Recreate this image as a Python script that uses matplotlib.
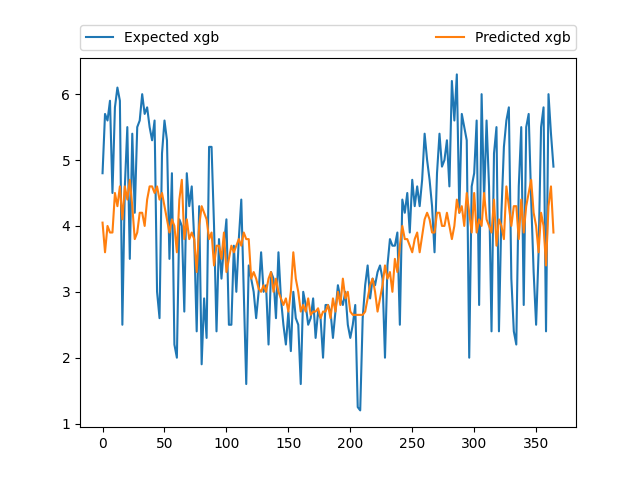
import numpy as np
import matplotlib
matplotlib.use('Agg')
import matplotlib.pyplot as plt

# values every 2nd day
days = list(range(0, 366, 2))

expected = [
    4.8, 5.7, 5.6, 5.9, 4.5, 5.8, 6.1, 5.9, 2.5, 4.6, 5.5, 3.5, 5.4, 4.2, 5.5, 5.6, 6.0, 5.7, 5.8, 5.5,
    5.3, 5.6, 3.0, 2.6, 5.1, 5.6, 5.3, 3.5, 4.8, 2.2, 2.0, 4.1, 4.0, 2.7, 4.8, 4.3, 4.6, 3.8, 2.4, 4.3,
    1.9, 2.9, 2.3, 5.2, 5.2, 4.0, 2.4, 3.8, 3.2, 3.7, 4.1, 2.5, 2.5, 3.7, 3.0, 3.8, 4.4, 3.0, 1.6, 3.4,
    3.2, 3.0, 2.6, 3.0, 3.6, 3.0, 3.1, 2.2, 3.3, 3.2, 2.6, 3.6, 2.9, 2.5, 2.2, 2.7, 2.1, 3.0, 2.6, 2.5,
    1.6, 3.0, 2.8, 2.5, 2.6, 2.9, 2.3, 2.7, 2.6, 2.0, 2.8, 2.8, 2.7, 2.3, 2.7, 3.1, 2.9, 2.8, 3.0, 2.5,
    2.3, 2.5, 2.8, 1.25, 1.2, 2.6, 3.1, 3.4, 2.9, 3.2, 3.1, 3.3, 3.4, 3.2, 2.0, 3.4, 3.8, 3.7, 3.7, 3.9,
    2.5, 4.4, 4.2, 4.5, 3.9, 4.7, 4.3, 4.6, 4.3, 4.7, 5.4, 5.0, 4.7, 4.3, 3.6, 4.8, 5.4, 4.9, 5.0, 5.3,
    4.6, 6.2, 5.6, 6.3, 4.2, 5.7, 5.5, 5.3, 2.0, 4.6, 4.8, 5.6, 2.8, 6.0, 4.4, 5.6, 4.6, 2.4, 5.1, 5.5,
    2.4, 4.2, 5.2, 5.6, 5.8, 3.2, 2.4, 2.2, 4.6, 5.5, 2.8, 5.5, 5.7, 4.4, 3.3, 2.5, 3.6, 5.5, 5.8, 2.4,
    6.0, 5.4, 4.9,
]

predicted = [
    4.05, 3.6, 4.0, 3.9, 3.9, 4.5, 4.3, 4.6, 4.1, 4.6, 4.4, 4.7, 4.3, 3.8, 3.9, 4.2, 4.2, 4.0, 4.4, 4.6,
    4.6, 4.5, 4.6, 4.4, 4.5, 4.3, 4.1, 3.9, 4.1, 4.0, 3.6, 4.4, 4.7, 3.8, 4.1, 3.8, 3.9, 3.8, 3.3, 4.0,
    4.3, 4.2, 4.1, 3.8, 3.9, 3.4, 3.7, 3.7, 3.5, 3.9, 3.3, 3.5, 3.7, 3.6, 3.7, 3.8, 3.7, 3.9, 3.8, 3.8,
    3.2, 3.3, 3.2, 3.05, 3.0, 3.1, 3.0, 3.2, 3.3, 3.0, 3.2, 3.0, 2.9, 2.8, 2.9, 2.7, 3.0, 3.6, 3.2, 3.0,
    2.7, 2.8, 2.7, 2.9, 2.65, 2.7, 2.7, 2.75, 2.6, 2.7, 2.7, 2.8, 2.6, 2.9, 2.7, 3.0, 2.8, 3.2, 2.9, 3.0,
    2.7, 2.65, 2.65, 2.65, 2.65, 2.65, 2.7, 2.9, 3.1, 3.2, 3.0, 2.7, 2.9, 3.1, 3.4, 3.2, 3.3, 3.0, 3.5, 3.3,
    3.7, 4.0, 3.8, 3.8, 3.7, 3.6, 3.8, 3.9, 3.6, 3.85, 4.1, 4.2, 4.1, 3.9, 3.9, 4.2, 4.2, 4.0, 4.0, 4.2,
    4.0, 3.8, 4.0, 4.4, 4.2, 4.3, 4.0, 4.5, 4.2, 3.9, 4.5, 3.9, 4.1, 4.0, 4.5, 4.1, 4.0, 3.9, 4.4, 3.7,
    4.1, 4.0, 3.8, 4.6, 4.3, 4.0, 4.3, 4.3, 3.8, 4.4, 3.9, 4.3, 4.5, 4.7, 4.2, 4.0, 3.6, 4.2, 4.0, 3.4,
    4.3, 4.6, 3.9,
]

fig, ax = plt.subplots(figsize=(6.4, 4.8), dpi=100)
ax.plot(days, expected, label='Expected xgb')
ax.plot(days, predicted, label='Predicted xgb')
ax.legend(bbox_to_anchor=(0., 1.02, 1., .102), loc='lower left', ncol=2, mode='expand', borderaxespad=0.)
plt.savefig('out.png')
